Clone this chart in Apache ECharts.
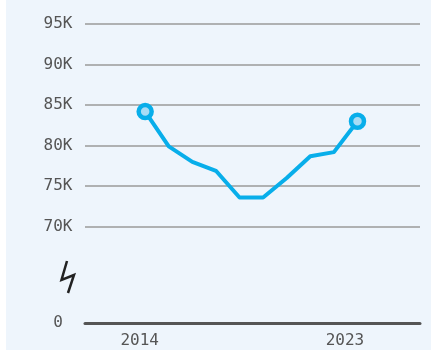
<!DOCTYPE html>
<html>
<head>
<meta charset="utf-8">
<script src="https://cdn.jsdelivr.net/npm/echarts@6/dist/echarts.min.js"></script>
<style>
  html, body { margin: 0; padding: 0; background: #ffffff; }
  #chart { width: 431px; height: 350px; }
</style>
</head>
<body>
<div id="chart"></div>
<script>
// Yearly values, 2014 through 2023
const years = [2014, 2015, 2016, 2017, 2018, 2019, 2020, 2021, 2022, 2023];
const values = [84200, 79900, 78000, 76900, 73600, 73600, 76000, 78700, 79200, 83000];
const yTicks = [70000, 75000, 80000, 85000, 90000, 95000];
const xTickLabels = [2014, 2023];

const lineColor = '#08aeea';
const textColor = '#555555';
const font = 'DejaVu Sans Mono';

const points = years.map((y, i) => {
  const isEnd = i === 0 || i === years.length - 1;
  return { value: [y, values[i]], symbol: isEnd ? 'circle' : 'none' };
});

const chart = echarts.init(document.getElementById('chart'), null, { renderer: 'canvas' });
chart.setOption({
  backgroundColor: '#ffffff',
  animation: false,
  graphic: [
    { type: 'rect', shape: { x: 6, y: 0, width: 425, height: 350 }, style: { fill: '#eef5fc' }, z: -10, silent: true },
    // axis break marker between 0 and the upper range
    { type: 'polyline', shape: { points: [[67, 261], [61.5, 280], [74, 275], [68, 293]] },
      style: { stroke: '#222222', lineWidth: 2.5, fill: null, lineJoin: 'miter' }, z: 10, silent: true }
  ],
  grid: [
    { left: 85, right: 11, top: 24, height: 202.7 },
    { left: 85, right: 11, top: 303, height: 20 }
  ],
  xAxis: [
    { type: 'value', gridIndex: 0, min: 2011.45, max: 2025.65, show: false },
    { type: 'value', gridIndex: 1, min: 2011.6, max: 2026.29,
      axisLine: { show: true, onZero: false, lineStyle: { color: '#555555', width: 3 } },
      axisTick: { show: false },
      splitLine: { show: false },
      axisLabel: {
        customValues: xTickLabels,
        formatter: v => String(v),
        color: textColor, fontFamily: font, fontSize: 16, margin: 10
      }
    }
  ],
  yAxis: [
    { type: 'value', gridIndex: 0, min: yTicks[0], max: yTicks[yTicks.length - 1], interval: 5000,
      axisLine: { show: false }, axisTick: { show: false },
      splitLine: { show: true, lineStyle: { color: '#9a9a9a', width: 1.5 } },
      axisLabel: {
        formatter: v => (v / 1000) + 'K',
        color: textColor, fontFamily: font, fontSize: 16, align: 'center', margin: 27
      }
    },
    { type: 'value', gridIndex: 1, min: 0, max: 1,
      axisLine: { show: false }, axisTick: { show: false }, splitLine: { show: false },
      axisLabel: {
        customValues: [0],
        formatter: v => String(v),
        color: textColor, fontFamily: font, fontSize: 16, align: 'center', margin: 27
      }
    }
  ],
  series: [{
    type: 'line',
    xAxisIndex: 0, yAxisIndex: 0,
    data: points,
    showAllSymbol: true,
    symbolSize: 13,
    lineStyle: { color: lineColor, width: 4, join: 'round' },
    itemStyle: { color: '#a8dcf5', borderColor: lineColor, borderWidth: 4.5 },
    z: 5
  }]
});
</script>
</body>
</html>
